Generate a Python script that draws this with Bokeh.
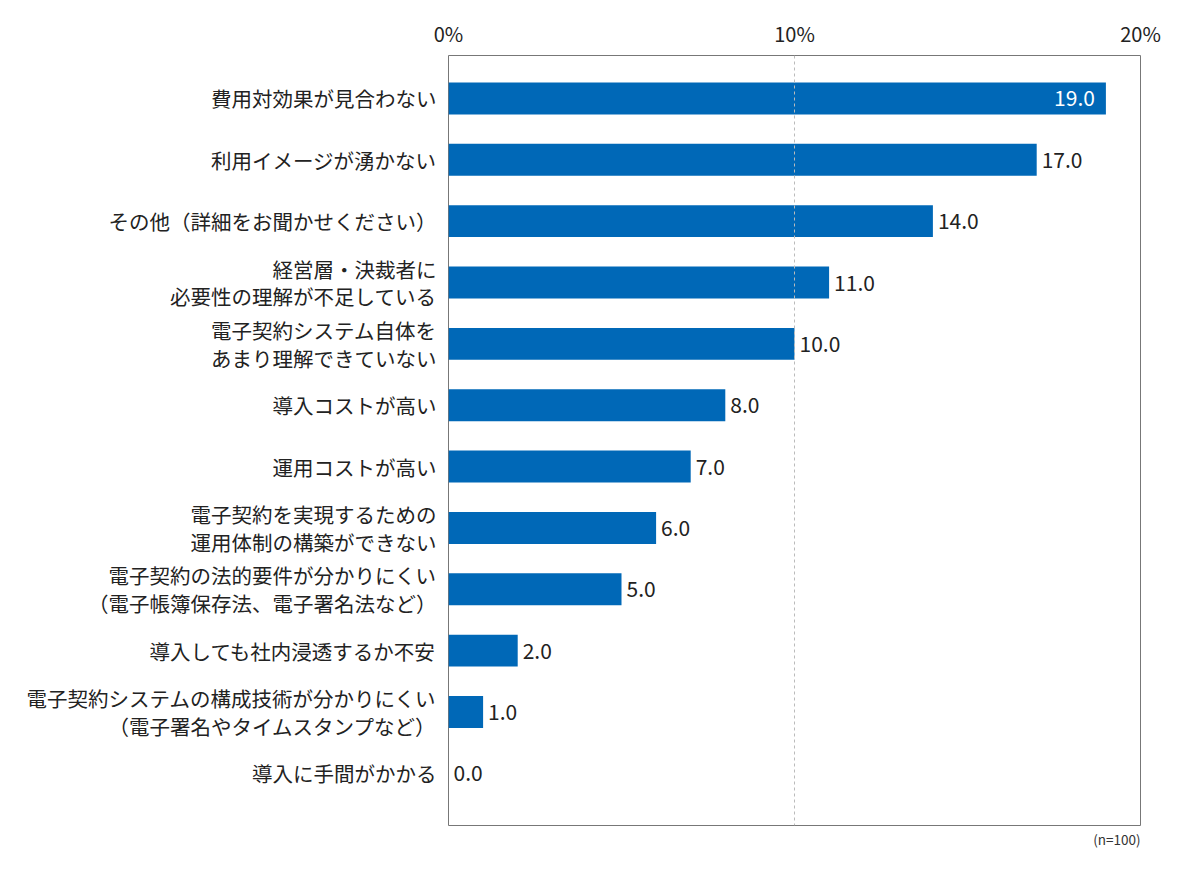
from bokeh.plotting import figure
from bokeh.models import FixedTicker, Range1d, ColumnDataSource, Title, Span
from bokeh.core.properties import value
from bokeh.embed import file_html
from bokeh.resources import INLINE

categories = [
    "費用対効果が見合わない",
    "利用イメージが湧かない",
    "その他（詳細をお聞かせください）",
    "経営層・決裁者に\n必要性の理解が不足している",
    "電子契約システム自体を\nあまり理解できていない",
    "導入コストが高い",
    "運用コストが高い",
    "電子契約を実現するための\n運用体制の構築ができない",
    "電子契約の法的要件が分かりにくい\n（電子帳簿保存法、電子署名法など）",
    "導入しても社内浸透するか不安",
    "電子契約システムの構成技術が分かりにくい\n（電子署名やタイムスタンプなど）",
    "導入に手間がかかる",
]
values = [19.0, 17.0, 14.0, 11.0, 10.0, 8.0, 7.0, 6.0, 5.0, 2.0, 1.0, 0.0]
x_ticks = [0, 10, 20]
x_tick_labels = ["0%", "10%", "20%"]
note = "(n=100)"

JP = "Noto Sans CJK JP"
BAR = "#0068b7"

n = len(categories)
pos = list(range(n))

p = figure(width=1184, height=854, output_backend="svg", toolbar_location=None,
           x_axis_location="above",
           x_range=Range1d(0, 20), y_range=Range1d(n - 1 + 0.85, -0.70),
           min_border_left=448, min_border_right=44, min_border_top=55, min_border_bottom=29)

p.outline_line_color = "#777777"
p.outline_line_width = 1
p.grid.visible = False
p.background_fill_color = "white"
p.border_fill_color = "white"

p.add_layout(Span(location=10, dimension="height", line_color="#bbbbbb",
                  line_dash="3 3", line_width=1))

src = ColumnDataSource(dict(y=pos, v=values))
p.hbar(y="y", right="v", left=0, height=0.52, source=src,
       fill_color=BAR, line_color=None)

inside = [i for i, v in enumerate(values) if v >= 18]
outside = [i for i, v in enumerate(values) if v < 18]
src_in = ColumnDataSource(dict(y=[pos[i] for i in inside], v=[values[i] for i in inside],
                               lbl=["%.1f" % values[i] for i in inside]))
src_out = ColumnDataSource(dict(y=[pos[i] for i in outside], v=[values[i] for i in outside],
                                lbl=["%.1f" % values[i] for i in outside]))
p.text(x="v", y="y", text="lbl", source=src_out, x_offset=5,
       text_align="left", text_baseline="middle", text_font=value(JP),
       text_font_size="21px", text_color="#222222")
p.text(x="v", y="y", text="lbl", source=src_in, x_offset=-11,
       text_align="right", text_baseline="middle", text_font=value(JP),
       text_font_size="21px", text_color="white")

# top axis
xa = p.xaxis[0]
xa.ticker = FixedTicker(ticks=x_ticks)
xa.major_label_overrides = {t: l for t, l in zip(x_ticks, x_tick_labels)}
xa.axis_line_color = None
xa.major_tick_line_color = None
xa.minor_tick_line_color = None
xa.major_tick_out = 0
xa.major_tick_in = 0
xa.major_label_standoff = 8
xa.major_label_text_font = JP
xa.major_label_text_font_size = "20px"
xa.major_label_text_color = "#222222"

# left axis with category labels
ya = p.yaxis[0]
ya.ticker = FixedTicker(ticks=pos)
ya.major_label_overrides = {i: c for i, c in zip(pos, categories)}
ya.axis_line_color = None
ya.major_tick_line_color = None
ya.minor_tick_line_color = None
ya.major_tick_out = 0
ya.major_tick_in = 0
ya.major_label_standoff = 12
ya.major_label_text_font = JP
ya.major_label_text_font_size = "20.5px"
ya.major_label_text_color = "#222222"
ya.major_label_text_line_height = 0.92

p.add_layout(Title(text=note, align="right", text_font=JP, text_font_size="13.5px",
                   text_font_style="normal", text_color="#333333", standoff=2), "below")

open("out.html", "w").write(file_html(p, INLINE))
